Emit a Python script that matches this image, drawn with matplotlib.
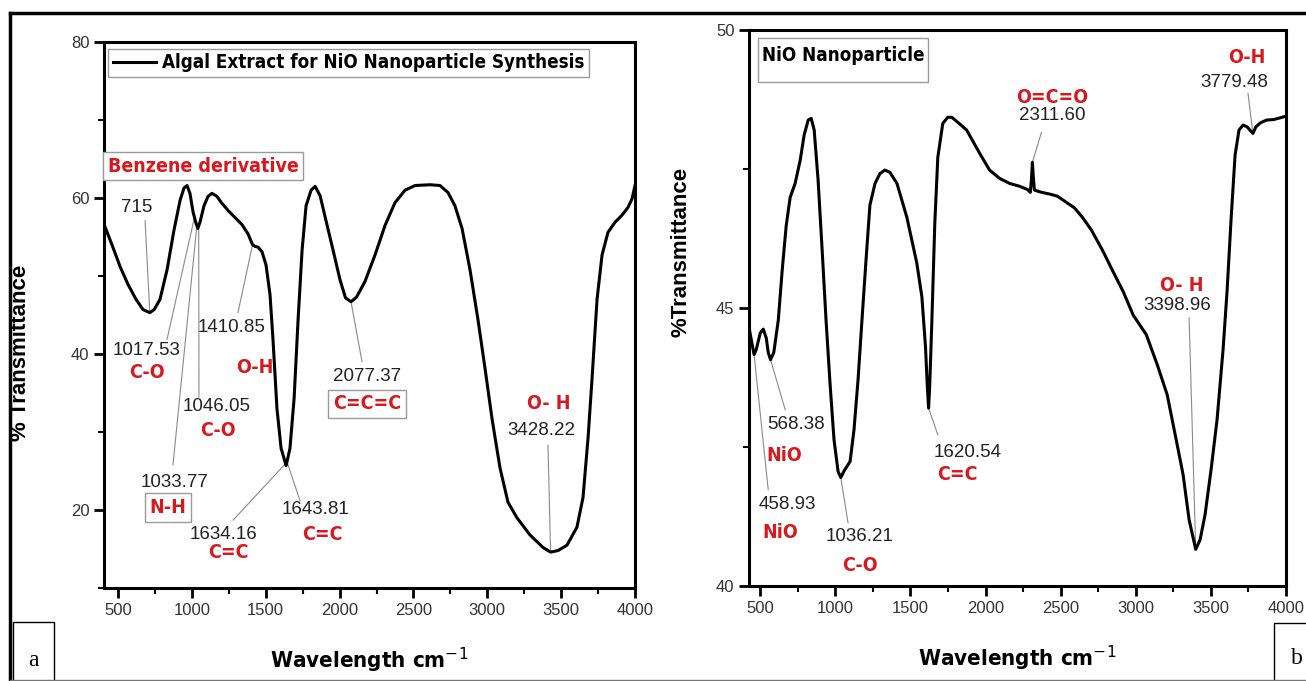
import numpy as np
import matplotlib
matplotlib.use("Agg")
import matplotlib.pyplot as plt
from matplotlib import font_manager
from matplotlib.patches import Rectangle
from matplotlib.lines import Line2D
from matplotlib.ticker import MultipleLocator

# ---------------- data ----------------
# (a) algal extract FTIR spectrum
wn_a = [412, 459, 514, 568, 622, 669, 715, 745, 784, 832, 879, 920, 947, 967, 987,
        1008, 1026, 1040, 1055, 1082, 1109, 1136, 1170, 1204, 1245, 1292, 1339, 1380,
        1410.85, 1427, 1448, 1475, 1502, 1529, 1549, 1576, 1604, 1638, 1664, 1692,
        1719, 1746, 1773, 1807, 1834, 1868, 1908, 1956, 2003, 2040, 2077.37, 2115,
        2172, 2240, 2308, 2375, 2443, 2511, 2612, 2680, 2734, 2781, 2829, 2883, 2937,
        2985, 3032, 3086, 3140, 3201, 3289, 3377, 3428.22, 3479, 3540, 3607, 3648,
        3682, 3709, 3743, 3777, 3817, 3865, 3912, 3953, 3980, 4000]
tr_a = [56.3, 54.0, 51.2, 48.9, 47.0, 45.7, 45.3, 45.7, 47.0, 50.8, 55.9, 59.7, 61.3,
        61.6, 60.6, 58.2, 56.9, 56.1, 56.9, 59.0, 60.2, 60.6, 60.2, 59.3, 58.4, 57.5,
        56.6, 55.4, 54.0, 53.8, 53.7, 53.1, 51.4, 47.6, 41.9, 33.0, 27.9, 25.7, 27.9,
        34.3, 44.4, 53.3, 59.0, 61.0, 61.5, 60.3, 57.1, 53.3, 49.5, 47.2, 46.7, 47.3,
        49.3, 52.7, 56.5, 59.4, 61.0, 61.6, 61.7, 61.6, 60.7, 59.0, 56.1, 50.8, 44.4,
        38.1, 31.7, 25.4, 21.0, 19.0, 16.8, 15.2, 14.6, 14.8, 15.5, 17.8, 21.6, 29.2,
        36.8, 47.0, 52.7, 55.6, 56.9, 57.8, 58.8, 59.9, 61.6]

# (b) NiO nanoparticle FTIR spectrum
wn_b = [420, 434, 458.93, 473, 500, 520, 540, 553, 568.38, 590, 620, 646, 673, 699,
        732, 766, 792, 819, 839, 859, 885, 912, 938, 965, 991, 1018, 1036.21, 1060,
        1098, 1124, 1151, 1177, 1204, 1230, 1264, 1297, 1330, 1363, 1410, 1476, 1542,
        1576, 1600, 1612, 1620.54, 1628, 1642, 1662, 1682, 1715, 1748, 1775, 1815,
        1874, 1961, 2027, 2094, 2160, 2226, 2280, 2298, 2305, 2311.60, 2318, 2325,
        2373, 2426, 2479, 2538, 2592, 2645, 2705, 2778, 2844, 2917, 2983, 3070, 3143,
        3209, 3269, 3315, 3355, 3398.96, 3428, 3461, 3501, 3541, 3581, 3608, 3634,
        3661, 3687, 3714, 3740, 3779.48, 3800, 3830, 3870, 3920, 4000]
tr_b = [44.73, 44.52, 44.16, 44.25, 44.55, 44.62, 44.46, 44.20, 44.07, 44.20, 44.78,
        45.68, 46.49, 46.99, 47.24, 47.66, 48.11, 48.38, 48.41, 48.20, 47.30, 46.04,
        44.78, 43.62, 42.63, 42.06, 41.95, 42.08, 42.24, 42.81, 43.71, 44.78, 45.86,
        46.85, 47.24, 47.42, 47.48, 47.44, 47.24, 46.63, 45.81, 45.20, 44.30, 43.60,
        43.20, 43.60, 44.73, 46.53, 47.71, 48.32, 48.43, 48.43, 48.34, 48.20, 47.78,
        47.48, 47.33, 47.24, 47.19, 47.13, 47.08, 47.30, 47.62, 47.35, 47.12, 47.08,
        47.05, 47.01, 46.90, 46.80, 46.63, 46.40, 46.04, 45.68, 45.29, 44.87, 44.52,
        43.98, 43.44, 42.63, 42.00, 41.19, 40.66, 40.83, 41.28, 42.09, 42.99, 44.25,
        45.32, 46.58, 47.75, 48.20, 48.29, 48.26, 48.14, 48.26, 48.33, 48.38, 48.39,
        48.45]

xticks = [500, 1000, 1500, 2000, 2500, 3000, 3500, 4000]
yticks_a = [20, 40, 60, 80]
yticks_b = [40, 45, 50]

legend_a = "Algal Extract for NiO Nanoparticle Synthesis"
legend_b = "NiO Nanoparticle"

# labelled band positions (cm^-1)
peaks_a = [715, 1017.53, 1033.77, 1046.05, 1410.85, 1634.16, 1643.81, 2077.37, 3428.22]
peaks_b = [458.93, 568.38, 1036.21, 1620.54, 2311.60, 3398.96, 3779.48]

# ---------------- fonts ----------------
names = {f.name for f in font_manager.fontManager.ttflist}
if "Liberation Sans Narrow" in names:
    NARROW, STRETCH = "Liberation Sans Narrow", "normal"
elif any(f.name == "DejaVu Sans" and f.stretch == "condensed" for f in font_manager.fontManager.ttflist):
    NARROW, STRETCH = "DejaVu Sans", "condensed"
else:
    NARROW, STRETCH = "Liberation Sans", "normal"
REG = "Liberation Sans"
RED = "#d7191f"
GREY = "#8a8a8a"

W, H = 1306, 681
fig = plt.figure(figsize=(W / 100, H / 100), dpi=100)
fig.patch.set_facecolor("white")


def px_axes(l, t, r, b):
    return fig.add_axes([l / W, 1 - b / H, (r - l) / W, (b - t) / H])


def style_axes(ax):
    for s in ax.spines.values():
        s.set_linewidth(2.2)
    ax.tick_params(which="major", direction="out", length=7, width=2,
                   labelsize=12, labelcolor="#333333", top=False, right=False)
    ax.tick_params(which="minor", direction="out", length=4, width=1.5,
                   top=False, right=False)
    for lab in ax.get_xticklabels() + ax.get_yticklabels():
        lab.set_family(REG)


def num(ax, x, y, s, size=13.5):
    ax.text(x, y, s, ha="center", va="center", fontsize=size, family=REG, color="#222222")


def tag(ax, x, y, s, size=14, box=False):
    kw = {}
    if box:
        kw["bbox"] = dict(boxstyle="square,pad=0.25", fc="white", ec="#9a9a9a", lw=1.0)
    ax.text(x, y, s, ha="center", va="center", fontsize=size, family=NARROW,
            fontstretch=STRETCH, fontweight="bold", color=RED, **kw)


def leader(ax, wn, tr, x0, y0, peak):
    y1 = np.interp(peak, wn, tr)
    ax.plot([x0, peak], [y0, y1], color=GREY, lw=0.8, zorder=1)


# ---------------- panel (a) ----------------
axa = px_axes(104, 42, 635, 588)
axa.plot(wn_a, tr_a, color="black", lw=2.2, label=legend_a, zorder=3)
axa.set_xlim(405, 4000)
axa.set_ylim(10, 80)
axa.set_xticks(xticks)
axa.set_yticks(yticks_a)
axa.xaxis.set_minor_locator(MultipleLocator(250))
axa.yaxis.set_minor_locator(MultipleLocator(10))
style_axes(axa)
axa.set_ylabel("% Transmittance", fontsize=16, fontweight="bold", family=REG)
axa.yaxis.set_label_coords(-0.137, 0.43)
axa.set_xlabel("Wavelength cm$^{-1}$", fontsize=16, fontweight="bold", family=NARROW,
               fontstretch=STRETCH, labelpad=20)

leg = axa.legend(loc="upper left", bbox_to_anchor=(0.008, 0.988), frameon=True,
                 fancybox=False, framealpha=1, edgecolor="#9a9a9a", handlelength=2.3,
                 handletextpad=0.3, borderpad=0.25, borderaxespad=0,
                 prop=dict(family=NARROW, stretch=STRETCH, weight="bold", size=13.5))
leg.get_frame().set_linewidth(1.0)

tag(axa, 1075, 64.1, "Benzene derivative", size=14, box=True)

a_leaders = [(683, 57.1), (832, 41.9), (872, 25.8), (1048, 34.5), (1312, 45.3),
             (1279, 18.7), (1732, 21.2), (2152, 39.0), (3411, 28.3)]
for (x0, y0), p in zip(a_leaders, peaks_a):
    leader(axa, wn_a, tr_a, x0, y0, p)

num(axa, 629, 58.8, "715")
num(axa, 690, 40.4, "1017.53")
tag(axa, 696, 37.6, "C-O")
num(axa, 1272, 43.4, "1410.85")
tag(axa, 1427, 38.3, "O-H")
num(axa, 1170, 33.3, "1046.05")
tag(axa, 1177, 30.2, "C-O")
num(axa, 886, 23.5, "1033.77")
tag(axa, 839, 20.3, "N-H", box=True)
num(axa, 1211, 16.9, "1634.16")
tag(axa, 1245, 14.6, "C=C")
num(axa, 1840, 20.1, "1643.81")
tag(axa, 1881, 16.9, "C=C")
num(axa, 2186, 37.1, "2077.37")
tag(axa, 2186, 33.6, "C=C=C", box=True)
tag(axa, 3418, 33.6, "O- H")
num(axa, 3364, 30.2, "3428.22")

# ---------------- panel (b) ----------------
axb = px_axes(749, 30, 1286, 586)
axb.plot(wn_b, tr_b, color="black", lw=2.2, zorder=3)
axb.set_xlim(425, 4000)
axb.set_ylim(40, 50)
axb.set_xticks(xticks)
axb.set_yticks(yticks_b)
axb.xaxis.set_minor_locator(MultipleLocator(250))
axb.yaxis.set_minor_locator(MultipleLocator(2.5))
style_axes(axb)
axb.set_ylabel("%Transmittance", fontsize=16, fontweight="bold", family=REG)
axb.yaxis.set_label_coords(-0.108, 0.6)
axb.set_xlabel("Wavelength cm$^{-1}$", fontsize=16, fontweight="bold", family=NARROW,
               fontstretch=STRETCH, labelpad=20)

axb.add_patch(Rectangle((0.017, 0.906), 0.316, 0.08, transform=axb.transAxes,
                        fill=False, ec="#9a9a9a", lw=1.0))
axb.text(0.175, 0.955, legend_b, transform=axb.transAxes, ha="center", va="center",
         fontsize=13.5, family=NARROW, fontstretch=STRETCH, fontweight="bold")

b_leaders = [(553, 41.73), (666, 43.17), (1084, 41.14), (1682, 42.72), (2372, 48.16),
             (3355, 44.82), (3747, 48.86)]
for (x0, y0), p in zip(b_leaders, peaks_b):
    leader(axb, wn_b, tr_b, x0, y0, p)

tag(axb, 2446, 48.79, "O=C=O")
num(axb, 2446, 48.46, "2311.60")
tag(axb, 3740, 49.5, "O-H")
num(axb, 3654, 49.06, "3779.48")
tag(axb, 3309, 45.41, "O- H")
num(axb, 3276, 45.04, "3398.96")
num(axb, 739, 42.9, "568.38")
tag(axb, 659, 42.34, "NiO")
num(axb, 679, 41.46, "458.93")
tag(axb, 633, 40.96, "NiO")
num(axb, 1164, 40.89, "1036.21")
tag(axb, 1164, 40.37, "C-O")
num(axb, 1881, 42.41, "1620.54")
tag(axb, 1815, 42.0, "C=C")

# ---------------- page frame and panel letters ----------------
def fline(xs, ys, **kw):
    fig.add_artist(Line2D([x / W for x in xs], [1 - y / H for y in ys], **kw))

fline([10, W], [13, 13], color="black", lw=2.5)
fline([10, 10], [13, H], color="black", lw=2.5)
fline([10, W], [H - 1, H - 1], color="#777777", lw=1.0)

fig.add_artist(Rectangle((13 / W, 0), 41 / W, 59 / H, transform=fig.transFigure,
                         fill=False, ec="black", lw=1.0))
fig.text(33 / W, 1 - 660 / H, "a", ha="center", va="center", fontsize=17,
         family="Liberation Serif")
fig.add_artist(Rectangle((1274 / W, 0), 40 / W, 58 / H, transform=fig.transFigure,
                         fill=False, ec="black", lw=1.0))
fig.text(1297 / W, 1 - 658 / H, "b", ha="center", va="center", fontsize=17,
         family="Liberation Serif")

fig.savefig("out.png", dpi=100)
